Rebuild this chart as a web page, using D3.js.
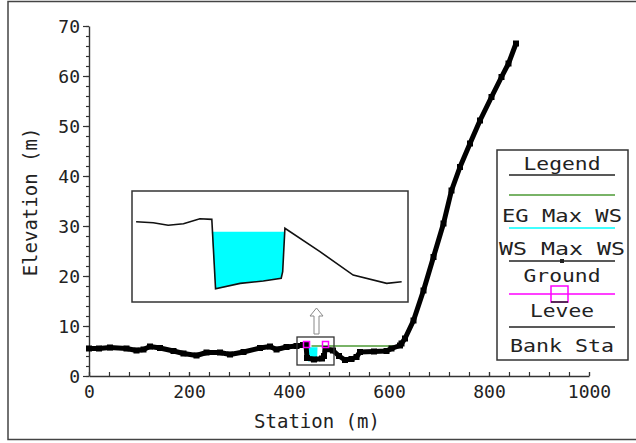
<!DOCTYPE html>
<html>
<head>
<meta charset="utf-8">
<script src="https://cdn.jsdelivr.net/npm/d3@7"></script>
<style>
  body { margin: 0; background: #fff; }
  svg { display: block; }
  text { font-family: "DejaVu Sans Mono", monospace; fill: #222; }
</style>
</head>
<body>
<svg id="chart" width="636" height="443"></svg>
<script>
// axis ticks
const stationTicks = [0, 200, 400, 600, 800, 1000];
const elevationTicks = [0, 10, 20, 30, 40, 50, 60, 70];

// ground profile (Station m, Elevation m)
const groundStation = [0, 20, 42, 75, 95, 109, 122, 142, 169, 189, 215, 235, 262, 282, 309, 342, 362, 375, 395, 415,
  428, 434, 436, 450, 466, 470, 473, 488, 500, 512, 525, 535, 542, 570, 595, 605, 622, 625, 632, 649,
  669, 689, 709, 725, 742, 762, 782, 805, 825, 839, 854];
const groundElev = [5.5, 5.5, 5.7, 5.5, 5.1, 5.3, 5.9, 5.6, 5.0, 4.5, 4.1, 4.7, 4.7, 4.3, 4.8, 5.6, 5.9, 5.3, 5.8, 6.0,
  6.2, 6.3, 3.6, 3.3, 3.5, 4.0, 5.4, 5.1, 4.0, 3.2, 3.4, 3.8, 4.8, 4.9, 5.0, 5.5, 6.1, 6.5, 7.5, 11.1,
  17.1, 23.8, 30.5, 37.1, 41.8, 46.5, 51.1, 55.8, 59.8, 62.5, 66.5];

// channel detail shown in the zoom inset
const channelStation = [417.1, 421.7, 425.7, 429.8, 434.2, 437.4, 438.4, 445.0, 451.2, 456.0, 456.4, 457.0, 466.4, 475.3, 484.3, 488.3];
const channelElev = [6.25, 6.20, 6.07, 6.15, 6.40, 6.37, 2.87, 3.14, 3.26, 3.40, 3.73, 5.92, 4.74, 3.56, 3.14, 3.22];
const bankStation = [437.4, 457.0];
const wsMaxWS = 5.75;

const egStation = [445, 622];
const egElev = [6.0, 6.0];
const leveeStation = [435, 473];
const leveeElev = [6.3, 6.3];

// zoom window (station, elevation)
const zoomStation = [416, 490];
const zoomElev = [2.2, 7.8];

const legendLabels = ["EG Max WS", "WS Max WS", "Ground", "Levee", "Bank Sta"];

const svg = d3.select("#chart");

// outer frame
svg.append("rect")
  .attr("x", 8).attr("y", 1.5).attr("width", 640).attr("height", 438)
  .attr("fill", "none").attr("stroke", "#444").attr("stroke-width", 1.5);

const x = d3.scaleLinear().domain([0, 1000]).range([89, 589]);
const y = d3.scaleLinear().domain([0, 70]).range([376, 26]);

// y axis: minor + major ticks
svg.append("g").attr("transform", "translate(89,0)")
  .call(d3.axisLeft(y).tickValues(d3.range(0, 71, 2)).tickSize(3).tickFormat(""))
  .call(g => g.select(".domain").remove());
const yAxis = svg.append("g").attr("transform", "translate(89,0)")
  .call(d3.axisLeft(y).tickValues(elevationTicks).tickSize(6).tickSizeOuter(0).tickPadding(3).tickFormat(d3.format("d")));

// x axis: ticks point inward
svg.append("g").attr("transform", "translate(0,376)")
  .call(d3.axisBottom(x).tickValues(d3.range(0, 1001, 40)).tickSize(-4).tickFormat(""))
  .call(g => g.select(".domain").remove());
const xAxis = svg.append("g").attr("transform", "translate(0,376)")
  .call(d3.axisBottom(x).tickValues(stationTicks).tickSize(-4).tickSizeOuter(0).tickPadding(9).tickFormat(d3.format("d")));

svg.selectAll(".tick line").attr("stroke", "#333").attr("stroke-width", 1.2);
svg.selectAll(".domain").attr("stroke", "#333").attr("stroke-width", 1.4);
svg.selectAll(".tick text")
  .style("font-family", "'DejaVu Sans Mono', monospace")
  .style("font-size", "18px").attr("fill", "#222");
yAxis.selectAll(".tick text").attr("dy", "0.36em");

// axis titles
svg.append("text").attr("x", 317).attr("y", 428).attr("text-anchor", "middle")
  .style("font-size", "19px").text("Station (m)");
svg.append("text").attr("transform", "translate(37,202) rotate(-90)").attr("text-anchor", "middle")
  .style("font-size", "19px").text("Elevation (m)");

const ground = groundStation.map((s, i) => ({ s: s, e: groundElev[i] }));
const channel = channelStation.map((s, i) => ({ s: s, e: channelElev[i] }));
const inChannel = channel.filter(d => d.s >= bankStation[0] && d.s <= bankStation[1]);

// water surface fill between banks
const wsArea = (xs, ys) => d3.area()
  .x(d => xs(d.s))
  .y0(d => ys(Math.min(d.e, wsMaxWS)))
  .y1(ys(wsMaxWS));
svg.append("path").datum(inChannel)
  .attr("d", wsArea(x, y)).attr("fill", "#00ffff");

// energy grade line
svg.append("path").datum(egStation.map((s, i) => ({ s: s, e: egElev[i] })))
  .attr("d", d3.line().x(d => x(d.s)).y(d => y(d.e)))
  .attr("stroke", "#4c9a35").attr("stroke-width", 1.5).attr("fill", "none");

// ground
svg.append("path").datum(ground)
  .attr("d", d3.line().x(d => x(d.s)).y(d => y(d.e)))
  .attr("fill", "none").attr("stroke", "#000").attr("stroke-width", 5)
  .attr("stroke-linejoin", "round");
svg.append("g").selectAll("rect").data(ground).join("rect")
  .attr("x", d => x(d.s) - 3).attr("y", d => y(d.e) - 3)
  .attr("width", 6).attr("height", 6).attr("fill", "#000");

// levees
svg.append("g").selectAll("rect").data(leveeStation).join("rect")
  .attr("x", (d, i) => x(d) - 3).attr("y", (d, i) => y(leveeElev[i]) - 3)
  .attr("width", 6).attr("height", 6)
  .attr("fill", "none").attr("stroke", "#ff00ff").attr("stroke-width", 1.5);

// zoom window in main plot
const zx0 = x(zoomStation[0]), zx1 = x(zoomStation[1]);
const zy0 = y(zoomElev[1]), zy1 = y(zoomElev[0]);
svg.append("rect")
  .attr("x", zx0).attr("y", zy0).attr("width", zx1 - zx0).attr("height", zy1 - zy0)
  .attr("fill", "none").attr("stroke", "#333").attr("stroke-width", 1.3);

// arrow up to the inset
const ax = (zx0 + zx1) / 2 + 1, ab = zy0 - 3;
svg.append("path")
  .attr("d", `M${ax - 2.5},${ab} L${ax - 2.5},${ab - 18} L${ax - 6.5},${ab - 18} L${ax},${ab - 26} ` +
    `L${ax + 6.5},${ab - 18} L${ax + 2.5},${ab - 18} L${ax + 2.5},${ab} Z`)
  .attr("fill", "#fff").attr("stroke", "#888").attr("stroke-width", 1);

// inset
const inset = { x0: 132, y0: 191, x1: 408, y1: 302 };
svg.append("rect")
  .attr("x", inset.x0).attr("y", inset.y0)
  .attr("width", inset.x1 - inset.x0).attr("height", inset.y1 - inset.y0)
  .attr("fill", "#fff").attr("stroke", "#333").attr("stroke-width", 1.5);
const xi = d3.scaleLinear().domain(zoomStation).range([inset.x0, inset.x1]);
const yi = d3.scaleLinear().domain(zoomElev).range([inset.y1, inset.y0]);
svg.append("path").datum(inChannel)
  .attr("d", wsArea(xi, yi)).attr("fill", "#00ffff");
svg.append("path").datum(channel)
  .attr("d", d3.line().x(d => xi(d.s)).y(d => yi(d.e)))
  .attr("fill", "none").attr("stroke", "#111").attr("stroke-width", 1.6);

// legend
const lg = svg.append("g");
lg.append("rect").attr("x", 497).attr("y", 150).attr("width", 131).attr("height", 210)
  .attr("fill", "#fff").attr("stroke", "#333").attr("stroke-width", 1.5);
const lx0 = 509, lx1 = 615, lcx = 562;
const legendText = (t, yy, w) => lg.append("text")
  .attr("x", lcx).attr("y", yy).attr("text-anchor", "middle")
  .attr("textLength", w).attr("lengthAdjust", "spacingAndGlyphs")
  .style("font-size", "18px").text(t);
const legendLine = (yy, color) => lg.append("line")
  .attr("x1", lx0).attr("x2", lx1).attr("y1", yy).attr("y2", yy)
  .attr("stroke", color).attr("stroke-width", 1.5);

legendText("Legend", 170, 77);
legendLine(175, "#222");
legendLine(195, "#4c9a35");
legendText(legendLabels[0], 221.5, 120);
legendLine(228, "#00ffff");
legendText(legendLabels[1], 255, 126);
legendLine(261, "#222");
lg.append("rect").attr("x", lcx - 2).attr("y", 259).attr("width", 4).attr("height", 4).attr("fill", "#222");
legendText(legendLabels[2], 281.5, 77);
legendLine(294, "#ff00ff");
lg.append("rect").attr("x", 551).attr("y", 286).attr("width", 17).attr("height", 16)
  .attr("fill", "none").attr("stroke", "#ff00ff").attr("stroke-width", 1.5);
lg.append("line").attr("x1", 551).attr("x2", 568).attr("y1", 302).attr("y2", 302)
  .attr("stroke", "#222").attr("stroke-width", 1.5);
legendText(legendLabels[3], 316.5, 64);
legendLine(327, "#222");
legendText(legendLabels[4], 351.5, 104);
</script>
</body>
</html>
